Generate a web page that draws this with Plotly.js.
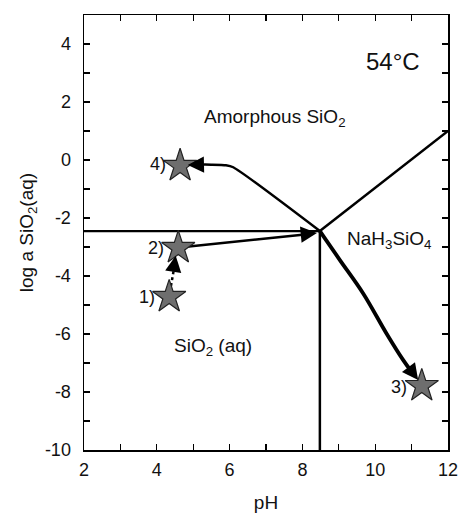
<!DOCTYPE html>
<html><head><meta charset="utf-8">
<script src="https://cdn.plot.ly/plotly-3.0.1.min.js"></script>
<style>body{margin:0;background:#fff}#c{width:463px;height:513px}</style>
</head><body><div id="c"></div><script>
// Phase boundaries
const hBoundX = [2, 8.48];       const hBoundY = [-2.45, -2.45];
const vBoundX = [8.48, 8.48];    const vBoundY = [-2.45, -10];
const dBoundX = [8.48, 12];      const dBoundY = [-2.45, 1.0];
// Trajectory to 4)
const path4X = [8.48, 6.1, 5.9, 5.5, 5.0];
const path4Y = [-2.45, -0.25, -0.18, -0.16, -0.16];
// Trajectory to 3)
const path3X = [8.48, 9.03, 9.67, 10.31, 10.77, 11.0];
const path3Y = [-2.45, -3.45, -4.6, -5.98, -6.9, -7.3];
// Trajectory 2) -> intersection
const path2X = [4.75, 8.2];  const path2Y = [-3.0, -2.55];
// Dotted 1) -> 2)
const path1X = [4.36, 4.5];  const path1Y = [-4.55, -3.55];
// Stars
const starX = [4.34, 4.59, 11.28, 4.64];
const starY = [-4.72, -3.03, -7.79, -0.2];
const starLbl = ['1)', '2)', '3)', '4)'];
// Arrowheads: tip and tail (direction) points
const headX = [4.85, 11.18, 8.4, 4.52];
const headY = [-0.17, -7.59, -2.52, -3.3];
const headTailX = [5.2, 10.95, 8.0, 4.47];
const headTailY = [-0.16, -7.2, -2.57, -3.7];
const xTicks = [2,4,6,8,10,12];
const xTickText = ['2','4','6','8','10','12'];
const yTicks = [-10,-8,-6,-4,-2,0,2,4];
const yTickText = ['-10','-8','-6','-4','-2','0','2','4'];

const ln = (x,y,w,dash) => ({x,y,mode:'lines',line:{color:'black',width:w,dash:dash||'solid'},hoverinfo:'skip',showlegend:false});
const traces = [
  ln(hBoundX,hBoundY,2.2), ln(vBoundX,vBoundY,2.5), ln(dBoundX,dBoundY,2.5),
  Object.assign(ln(path4X,path4Y,2.5),{line:{color:'black',width:2.5,shape:'spline',smoothing:0.6}}),
  Object.assign(ln(path3X,path3Y,3.8),{line:{color:'black',width:3.8,shape:'spline'}}),
  ln(path2X,path2Y,2.5),
  ln(path1X,path1Y,2.5,'dot'),
  {x:starX,y:starY,mode:'markers',marker:{symbol:'star',size:25,color:'#6e6e6e',line:{color:'#222',width:1.2}},showlegend:false,hoverinfo:'skip'}
];
const ann = [];
headX.forEach((hx,i) => ann.push({x:hx,y:headY[i],ax:headTailX[i],ay:headTailY[i],xref:'x',yref:'y',axref:'x',ayref:'y',text:'',showarrow:true,arrowhead:2,arrowsize:1.3,arrowwidth:2.5,arrowcolor:'black'}));
const lblOff = [[-0.62,0],[-0.62,0],[-0.62,-0.05],[-0.62,0.05]];
starLbl.forEach((t,i) => ann.push({x:starX[i]+lblOff[i][0],y:starY[i]+lblOff[i][1],xref:'x',yref:'y',text:t,showarrow:false,font:{size:18,color:'#111'}}));
const txt = (x,y,t,s) => ({x,y,xref:'x',yref:'y',text:t,showarrow:false,font:{size:s,color:'#111'}});
ann.push(txt(10.5,3.38,'54°C',24));
ann.push(txt(7.25,1.45,'Amorphous SiO<sub>2</sub>',19));
ann.push(txt(10.38,-2.75,'NaH<sub>3</sub>SiO<sub>4</sub>',19));
ann.push(txt(5.54,-6.45,'SiO<sub>2</sub> (aq)',19));

const axCommon = {showgrid:false,zeroline:false,showline:true,linecolor:'black',linewidth:1.5,mirror:'ticks',ticks:'inside',ticklen:6,tickwidth:1.2,tickcolor:'black',tickfont:{size:18,color:'#111'},tickmode:'array',
  minor:{dtick:1,ticks:'inside',ticklen:6,tickwidth:1.2,tickcolor:'black',showgrid:false}};
const layout = {
  width:463,height:513,margin:{l:84,r:15,t:15,b:63},
  paper_bgcolor:'white',plot_bgcolor:'white',
  font:{family:'Liberation Sans, Arial, sans-serif',color:'#111'},
  xaxis:Object.assign({},axCommon,{range:[2,12],tickvals:xTicks,ticktext:xTickText,ticklabelstandoff:3,title:{text:'pH',font:{size:19},standoff:16}}),
  yaxis:Object.assign({},axCommon,{range:[-10,5],tickvals:yTicks,ticktext:yTickText,ticklabelstandoff:8,title:{text:'log a SiO<sub>2</sub>(aq)',font:{size:19},standoff:6}}),
  annotations:ann
};
Plotly.newPlot('c',traces,layout,{staticPlot:true,displayModeBar:false});
</script></body></html>
